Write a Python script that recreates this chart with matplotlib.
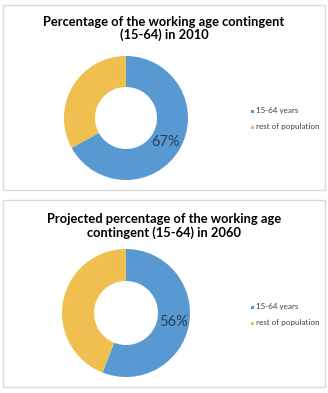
import matplotlib
matplotlib.use("Agg")
import matplotlib.pyplot as plt
from matplotlib.patches import Rectangle

categories = ["15-64 years", "rest of population"]
values_2010 = [67, 33]
values_2060 = [56, 44]
titles = ["Percentage of the working age contingent\n(15-64) in 2010",
          "Projected percentage of the working age\ncontingent (15-64) in 2060"]
colors = ["#5899D2", "#EFC04F"]

W, H = 328, 393
fig = plt.figure(figsize=(W / 100, H / 100), dpi=100)
fig.patch.set_facecolor("white")

def fx(x): return x / W
def fy(y): return 1 - y / H

panels = [
    dict(box=(3, 5, 325, 190), center=(126, 118), r=62, title_y=28.5,
         values=values_2010, title=titles[0], leg_y=(111, 127)),
    dict(box=(3, 200, 325, 387), center=(126, 313), r=64, title_y=226,
         values=values_2060, title=titles[1], leg_y=(307, 323)),
]

for p in panels:
    x0, y0, x1, y1 = p["box"]
    fig.patches.append(Rectangle((fx(x0), fy(y1)), fx(x1 - x0), (y1 - y0) / H,
                                 transform=fig.transFigure, fill=False,
                                 edgecolor="#D9D9D9", linewidth=1.0))
    cx, cy = p["center"]
    r = p["r"]
    ax = fig.add_axes([fx(cx - r), fy(cy + r), 2 * r / W, 2 * r / H])
    wedges, texts, autotexts = ax.pie(
        p["values"], colors=colors, startangle=90, counterclock=False,
        wedgeprops=dict(width=0.5, edgecolor="none"),
        autopct="%1.0f%%", pctdistance=0.75,
        textprops=dict(fontsize=10.5, color="#24405F", family="Lato"))
    autotexts[1].set_text("")
    ax.set_xlim(-1, 1)
    ax.set_ylim(-1, 1)
    ax.set_aspect("auto")
    ax.axis("off")
    fig.text(fx(164), fy(p["title_y"]), p["title"], ha="center", va="center",
             fontsize=9.3, fontweight="bold", family="Lato", color="#000000",
             linespacing=1.1)
    for cat, col, ly in zip(categories, colors, p["leg_y"]):
        fig.patches.append(Rectangle((fx(251), fy(ly + 1.5)), fx(3), 3 / H,
                                     transform=fig.transFigure, facecolor=col,
                                     edgecolor="none"))
        fig.text(fx(256), fy(ly), cat, ha="left", va="center", fontsize=5.8,
                 family="Lato", color="#404040")

fig.savefig("out.png", dpi=100, facecolor="white")
